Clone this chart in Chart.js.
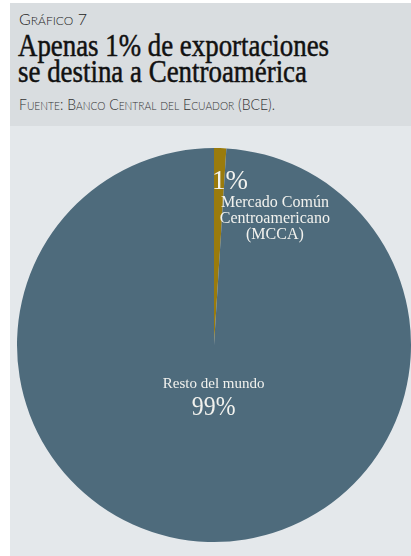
<!DOCTYPE html>
<html>
<head>
<meta charset="utf-8">
<script src="https://cdn.jsdelivr.net/npm/chart.js@4"></script>
<style>
  html, body { margin: 0; padding: 0; background: #ffffff; width: 411px; height: 556px; overflow: hidden; }
  #header { position: absolute; left: 10px; top: 3px; width: 401px; height: 123px; background: #d9dde0; }
  .fit { position: absolute; white-space: nowrap; transform-origin: 0 0; }
  #kicker { left: 9px; top: 6px; font-family: "Lato", sans-serif; font-weight: 300; color: #222; }
  #kicker .big { font-size: 16px; }
  #kicker .sm { font-size: 12px; }
  #title { left: 8px; top: 30px; font-family: "Liberation Serif", "Times New Roman", serif; font-weight: normal; font-size: 31px; line-height: 26px; color: #111; -webkit-text-stroke: 0.5px #111; }
  #source { left: 9px; top: 91px; font-family: "Lato", sans-serif; font-weight: 300; color: #333; }
  #source .big { font-size: 15px; }
  #source .sm { font-size: 11px; }
  #panel { position: absolute; left: 10px; top: 126px; width: 401px; height: 430px; background: #e4e8eb; }
  canvas { display: block; }
</style>
</head>
<body>
<div id="header">
  <div id="kicker" class="fit"></div>
  <div id="title" class="fit"><div class="tl" data-w="311">Apenas 1% de exportaciones</div><div class="tl" data-w="289">se destina a Centroamérica</div></div>
  <div id="source" class="fit" data-w="256"></div>
</div>
<div id="panel"><canvas id="c" width="401" height="430"></canvas></div>
<script>
const kickerText = "Gráfico 7";
const sourceText = "Fuente: Banco Central del Ecuador (BCE).";
const categories = [["Mercado Común", "Centroamericano", "(MCCA)"], ["Resto del mundo"]];
const shares = [1, 99];
const shareLabels = ["1%", "99%"];
const sliceColors = ["#9a7b0c", "#4e6b7c"];

function smallCaps(el, text) {
  let html = '';
  for (const ch of text) {
    if (ch === ' ') { html += '<span class="big"> </span>'; continue; }
    const up = ch.toUpperCase();
    if (ch === up) html += '<span class="big">' + ch + '</span>';
    else html += '<span class="sm">' + up + '</span>';
  }
  el.innerHTML = html;
}
smallCaps(document.getElementById('kicker'), kickerText);
smallCaps(document.getElementById('source'), sourceText);
function fit(el) {
  const w = parseFloat(el.dataset.w);
  const r = el.getBoundingClientRect();
  el.style.transform = 'scaleX(' + (w / r.width) + ')';
}
fit(document.getElementById('source'));
document.querySelectorAll('.tl').forEach(el => { el.style.display = 'inline-block'; });
document.querySelectorAll('.tl').forEach(el => { fit(el); el.style.display = 'block'; el.style.width = 'max-content'; el.style.transformOrigin = '0 0'; });

const labelPlugin = {
  id: 'sliceLabels',
  afterDatasetsDraw(chart) {
    const ctx = chart.ctx;
    const arcs = chart.getDatasetMeta(0).data;
    ctx.save();
    ctx.fillStyle = '#f2f2ee';
    ctx.textBaseline = 'alphabetic';
    {
      const a = arcs[0];
      const mid = (a.startAngle + a.endAngle) / 2;
      const r = a.outerRadius * 0.79;
      const x = a.x + Math.cos(mid) * r - 7;
      const y = a.y + Math.sin(mid) * r;
      ctx.textAlign = 'left';
      ctx.font = '27px "Liberation Serif", serif';
      ctx.fillText(shareLabels[0], x, y);
      ctx.textAlign = 'center';
      ctx.font = '16px "Liberation Serif", serif';
      const cx = x + 63;
      categories[0].forEach((line, i) => ctx.fillText(line, cx, y + 18 + i * 16));
    }
    {
      const a = arcs[1];
      const mid = (a.startAngle + a.endAngle) / 2;
      const r = a.outerRadius * 0.22;
      const x = a.x + Math.cos(mid) * r + 1;
      const y = a.y + Math.sin(mid) * r;
      ctx.textAlign = 'center';
      ctx.font = '15px "Liberation Serif", serif';
      ctx.fillText(categories[1][0], x, y);
      ctx.save();
      ctx.translate(x, y + 27);
      ctx.scale(0.85, 1);
      ctx.font = '28px "Liberation Serif", serif';
      ctx.fillText(shareLabels[1], 0, 0);
      ctx.restore();
    }
    ctx.restore();
  }
};

new Chart(document.getElementById('c'), {
  type: 'pie',
  data: {
    labels: categories.map(c => c.join(' ')),
    datasets: [{
      data: shares,
      backgroundColor: sliceColors,
      borderWidth: 0
    }]
  },
  options: {
    responsive: false,
    animation: false,
    layout: { padding: { left: 7, right: 0, top: 22, bottom: 14 } },
    plugins: { legend: { display: false }, tooltip: { enabled: false } }
  },
  plugins: [labelPlugin]
});
</script>
</body>
</html>
